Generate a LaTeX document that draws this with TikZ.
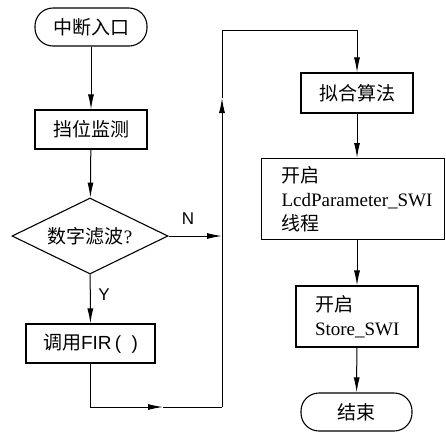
\documentclass[tikz,border=0pt]{standalone}
\usepackage{fontspec}
\setmainfont{Liberation Serif}
\newfontfamily\cjk{Noto Sans CJK SC}
\newfontfamily\lsans{Liberation Sans}
\usetikzlibrary{shapes.geometric,arrows.meta}
\begin{document}
\begin{tikzpicture}[x=1pt,y=-1pt,
  base/.style={draw,line width=1.1pt,inner sep=0pt,font=\cjk\fontsize{19}{24}\selectfont},
  proc/.style={base,rectangle},
  term/.style={base,rectangle,rounded corners=18pt},
  decision/.style={base,diamond,aspect=2},
  arr/.style={line width=1pt,-{Latex[length=15pt,width=6pt]}},
  ln/.style={line width=1pt},
  lbl/.style={font=\lsans\fontsize{17}{20}\selectfont,inner sep=0pt}]
\useasboundingbox (0,0) rectangle (446,432);
\clip (0,0) rectangle (446,432);
% left column
\node[term,minimum width=112pt,minimum height=38pt] (start) at (91,27) {中断入口};
\node[proc,minimum width=112pt,minimum height=39pt] (mon) at (91,129.5) {挡位监测};
\node[decision,minimum width=156pt,minimum height=76pt] (filt) at (90,236) {数字滤波{\rmfamily ?}};
\node[proc,minimum width=129pt,minimum height=39pt] (fir) at (90.5,343.5) {调用{\lsans FIR\,(\ \ )}};
% right column
\node[proc,minimum width=112pt,minimum height=40pt] (fit) at (357,93) {拟合算法};
\node[proc,anchor=north west,minimum height=81pt,text width=143pt,inner xsep=20pt,align=left] (lcd) at (261,158) {开启\\\makebox[143pt][l]{\rmfamily\fontsize{19}{24}\selectfont LcdParameter\_SWI}\\线程};
\node[proc,minimum width=122pt,minimum height=61pt,text width=84pt,align=left] (store) at (357,316.5) {开启\\\makebox[84pt][l]{\rmfamily\fontsize{19}{24}\selectfont Store\_SWI}};
\node[term,minimum width=111pt,minimum height=38pt] (end) at (356.5,412) {结束};
% labels
\node[lbl] (lblN) at (188,219) {N};
\node[lbl] (lblY) at (104,295) {Y};
% coordinates
\coordinate (nj) at (222,236);
\coordinate (b1) at (163,407);
\coordinate (b2) at (222,407);
\coordinate (u1) at (222,98);
\coordinate (t1) at (222,30);
\coordinate (t2) at (357,30);
% connectors
\draw[arr] (start) -- (mon);
\draw[arr] (mon) -- (filt);
\draw[arr] (filt) -- (fir);
\draw[arr] (filt.east) -- (nj);
\draw[arr] (fir.south) |- (b1);
\draw[ln] (b1) -- (b2);
\draw[arr] (b2) -- (u1);
\draw[ln] (u1) -- (t1) -- (t2);
\draw[arr] (t2) -- (fit.north);
\draw[arr] (fit.south) -- (fit.south |- lcd.north);
\draw[arr] (store.north |- lcd.south) -- (store.north);
\draw[arr] (store) -- (end);
\end{tikzpicture}
\end{document}
